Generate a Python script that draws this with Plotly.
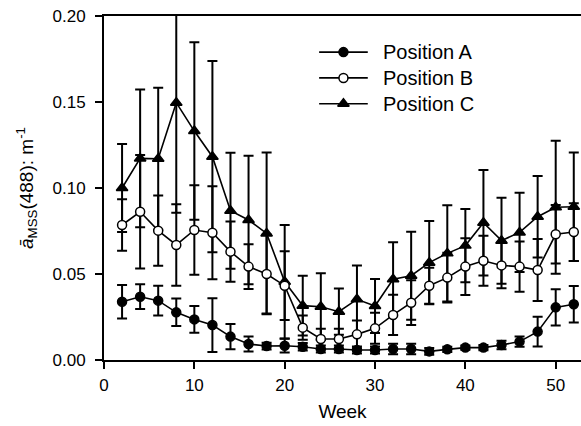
import plotly.graph_objects as go

# Sampling weeks
weeks = [2, 4, 6, 8, 10, 12, 14, 16, 18, 20, 22, 24, 26, 28, 30, 32, 34, 36, 38, 40, 42, 44, 46, 48, 50, 52]

# Position A: mean and standard deviation (m^-1)
pos_a = [0.0339, 0.0368, 0.0345, 0.0277, 0.0236, 0.0203, 0.0136, 0.0093, 0.0081, 0.0083,
         0.0077, 0.0064, 0.0064, 0.0058, 0.0058, 0.0064, 0.0064, 0.0050, 0.0062, 0.0072,
         0.0072, 0.0087, 0.0107, 0.0165, 0.0306, 0.0324]
err_a = [0.0097, 0.0072, 0.0087, 0.0080, 0.0078, 0.0156, 0.0073, 0.0043, 0.0020, 0.0040,
         0.0022, 0.0020, 0.0020, 0.0020, 0.0020, 0.0030, 0.0030, 0.0020, 0.0015, 0.0012,
         0.0015, 0.0025, 0.0030, 0.0087, 0.0105, 0.0106]

# Position B
pos_b = [0.0785, 0.0862, 0.0752, 0.0669, 0.0756, 0.0740, 0.0630, 0.0543, 0.0500, 0.0432,
         0.0188, 0.0122, 0.0122, 0.0149, 0.0184, 0.0262, 0.0333, 0.0432, 0.0479, 0.0543,
         0.0577, 0.0550, 0.0543, 0.0523, 0.0731, 0.0744]
err_b = [0.0150, 0.0330, 0.0204, 0.0237, 0.0260, 0.0270, 0.0175, 0.0130, 0.0230, 0.0200,
         0.0070, 0.0060, 0.0060, 0.0080, 0.0090, 0.0117, 0.0130, 0.0105, 0.0144, 0.0165,
         0.0145, 0.0133, 0.0146, 0.0180, 0.0170, 0.0168]

# Position C
pos_c = [0.1000, 0.1172, 0.1170, 0.1496, 0.1331, 0.1182, 0.0868, 0.0814, 0.0736, 0.0455,
         0.0316, 0.0310, 0.0281, 0.0353, 0.0314, 0.0469, 0.0490, 0.0566, 0.0620, 0.0665,
         0.0798, 0.0694, 0.0742, 0.0833, 0.0888, 0.0891]
err_c = [0.0256, 0.0400, 0.0413, 0.0640, 0.0516, 0.0556, 0.0337, 0.0374, 0.0470, 0.0330,
         0.0174, 0.0194, 0.0134, 0.0197, 0.0157, 0.0215, 0.0256, 0.0242, 0.0280, 0.0213,
         0.0307, 0.0250, 0.0230, 0.0237, 0.0387, 0.0316]

FONT = "Liberation Sans, Arial, sans-serif"
BLACK = "#000000"
WHITE = "#ffffff"

# Series styling: (name, values, errors, marker symbol, marker fill)
SERIES = [
    ("Position A", pos_a, err_a, "circle", BLACK),
    ("Position B", pos_b, err_b, "circle", WHITE),
    ("Position C", pos_c, err_c, "triangle-up", BLACK),
]

fig = go.Figure()

# Data traces, drawn C first so the A and B markers sit on top
for name, y, err, symbol, fill in reversed(SERIES):
    fig.add_trace(go.Scatter(
        x=weeks, y=y, name=name, mode="lines+markers", showlegend=False,
        line=dict(color=BLACK, width=1.6),
        marker=dict(symbol=symbol, size=9 if symbol == "circle" else 10, color=fill,
                    line=dict(color=BLACK, width=1.5)),
        error_y=dict(type="data", array=err, visible=True,
                     color=BLACK, thickness=2, width=5),
    ))

# Key in the upper middle of the plot, laid out on a hidden 0-1 overlay axis
key_x0, key_x1, key_text_x = 0.451, 0.553, 0.580
key_rows = [0.895, 0.820, 0.745]
for (name, _y, _e, symbol, fill), ky in zip(SERIES, key_rows):
    fig.add_trace(go.Scatter(
        x=[key_x0, key_x1], y=[ky, ky], mode="lines", xaxis="x2", yaxis="y2",
        line=dict(color=BLACK, width=1.6), showlegend=False, hoverinfo="skip",
    ))
    fig.add_trace(go.Scatter(
        x=[(key_x0 + key_x1) / 2], y=[ky], mode="markers", xaxis="x2", yaxis="y2",
        marker=dict(symbol=symbol, size=9 if symbol == "circle" else 10, color=fill,
                    line=dict(color=BLACK, width=1.5)),
        showlegend=False, hoverinfo="skip",
    ))
    fig.add_annotation(x=key_text_x, y=ky, xref="x2", yref="y2", text=name,
                       showarrow=False, xanchor="left", yanchor="middle",
                       font=dict(size=20, family=FONT, color=BLACK))

fig.update_layout(
    width=581, height=426,
    margin=dict(l=104, r=0, t=16, b=66),
    paper_bgcolor="white", plot_bgcolor="white",
    font=dict(family=FONT, size=17, color=BLACK),
    showlegend=False,
    xaxis=dict(
        range=[0, 52.8], tickvals=[0, 10, 20, 30, 40, 50],
        showgrid=False, zeroline=False,
        showline=True, linecolor=BLACK, linewidth=2, mirror=True,
        ticks="outside", ticklen=7, tickwidth=2, tickcolor=BLACK,
        ticklabelstandoff=2,
        title=dict(text="Week", standoff=10, font=dict(size=19)),
    ),
    yaxis=dict(
        range=[0, 0.2], tickvals=[0, 0.05, 0.10, 0.15, 0.20], tickformat=".2f",
        showgrid=False, zeroline=False,
        showline=True, linecolor=BLACK, linewidth=2,
        ticks="outside", ticklen=7, tickwidth=2, tickcolor=BLACK,
        ticklabelstandoff=6,
        title=dict(text="<i>ā</i><sub>MSS</sub>(488): m<sup>-1</sup>", standoff=14,
                   font=dict(size=19)),
    ),
    xaxis2=dict(overlaying="x", range=[0, 1], visible=False, fixedrange=True),
    yaxis2=dict(overlaying="y", range=[0, 1], visible=False, fixedrange=True),
)

fig.write_html("out.html")
